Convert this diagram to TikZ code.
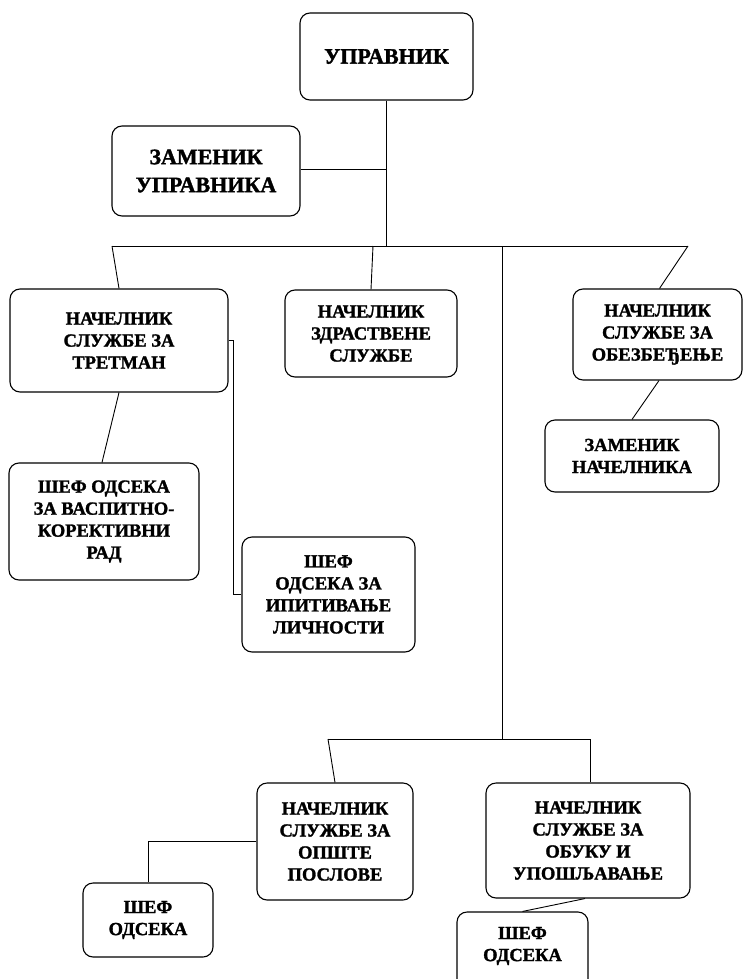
\documentclass[tikz,border=0pt]{standalone}
\usepackage{fontspec}
\setmainfont{Liberation Serif}[BoldFeatures={FakeBold=1.5}]
\tikzset{
  orgbox/.style={draw, rounded corners=10pt, line width=1.1pt, inner sep=0pt, align=center,
    font=\bfseries\fontsize{18.5}{22}\selectfont},
  bigtext/.style={font=\bfseries\fontsize{22}{28}\selectfont},
  lbl/.style={inner sep=0pt, align=center, font=\bfseries\fontsize{18.5}{22}\selectfont},
  conn/.style={line width=0.9pt},
}
\begin{document}
\begin{tikzpicture}[x=1pt, y=-1pt]
\useasboundingbox (0,0) rectangle (744,979);
\clip (0,0) rectangle (744,979);
\fill[white] (0,0) rectangle (744,979);

% boxes
\node[orgbox, bigtext, minimum width=173, minimum height=87] (upr) at (386.5,56.5) {УПРАВНИК};
\node[orgbox, bigtext, minimum width=188, minimum height=90] (zam) at (206,171) {ЗАМЕНИК\\УПРАВНИКА};
\node[orgbox, minimum width=218, minimum height=103] (tret) at (119,340.5) {НАЧЕЛНИК\\СЛУЖБЕ ЗА\\ТРЕТМАН};
\node[orgbox, minimum width=172, minimum height=87] (zdrav) at (371,333.5) {НАЧЕЛНИК\\ЗДРАСТВЕНЕ\\СЛУЖБЕ};
\node[orgbox, minimum width=169, minimum height=91] (obez) at (657.5,334.5) {НАЧЕЛНИК\\СЛУЖБЕ ЗА\\ОБЕЗБЕЂЕЊЕ};
\node[orgbox, minimum width=174, minimum height=72] (zamn) at (632,456) {ЗАМЕНИК\\НАЧЕЛНИКА};
\node[orgbox, minimum width=190, minimum height=117] (vasp) at (104,521.5) {ШЕФ ОДСЕКА\\ЗА ВАСПИТНО-\\КОРЕКТИВНИ\\РАД};
\node[orgbox, minimum width=173, minimum height=115] (ipit) at (328.5,594.5) {ШЕФ\\ОДСЕКА ЗА\\ИПИТИВАЊЕ\\ЛИЧНОСТИ};
\node[orgbox, minimum width=156, minimum height=117] (opste) at (335,841.5) {НАЧЕЛНИК\\СЛУЖБЕ ЗА\\ОПШТЕ\\ПОСЛОВЕ};
\node[orgbox, minimum width=204, minimum height=115] (obuku) at (588,840.5) {НАЧЕЛНИК\\СЛУЖБЕ ЗА\\ОБУКУ И\\УПОШЉАВАЊЕ};
\node[orgbox, minimum width=130, minimum height=74] (sef1) at (148,920) {ШЕФ\\ОДСЕКА};
\node[orgbox, minimum width=131, minimum height=88] (sef2) at (522.5,956) {};
\node[lbl] (sef2t) at (522.5,946) {ШЕФ\\ОДСЕКА};

% junctions
\coordinate (bl) at (112,246);
\coordinate (br) at (688,246);
\coordinate (jz) at (373,246);
\coordinate (jm) at (502,246);
\coordinate (bbl) at (328,739);
\coordinate (bbr) at (590,739);
\coordinate (jb) at (502,739);

% connectors
\draw[conn] (upr.south) -- (upr.south |- bl);
\draw[conn] ([yshift=2]zam.east) -- ([yshift=2]zam.east -| upr.south);
\draw[conn] (bl) -- (br);
\draw[conn] (bl) -- (tret.north);
\draw[conn] (jz) -- (zdrav.north);
\draw[conn] (br) -- ([xshift=2]obez.north);
\draw[conn] ([xshift=1.5]obez.south) -- (zamn.north);
\draw[conn] (tret.south) -- ([xshift=-2]vasp.north);
\draw[conn] (tret.east) -- ++(5,0) |- (ipit.west);
\draw[conn] (jm) -- (jb);
\draw[conn] (bbl) -- (bbr);
\draw[conn] (bbl) -- (opste.north);
\draw[conn] (bbr) -- (bbr |- obuku.north);
\draw[conn] (opste.west) -| (sef1.north);
\draw[conn] ([xshift=-3]obuku.south) -- (sef2.north);
\end{tikzpicture}
\end{document}
